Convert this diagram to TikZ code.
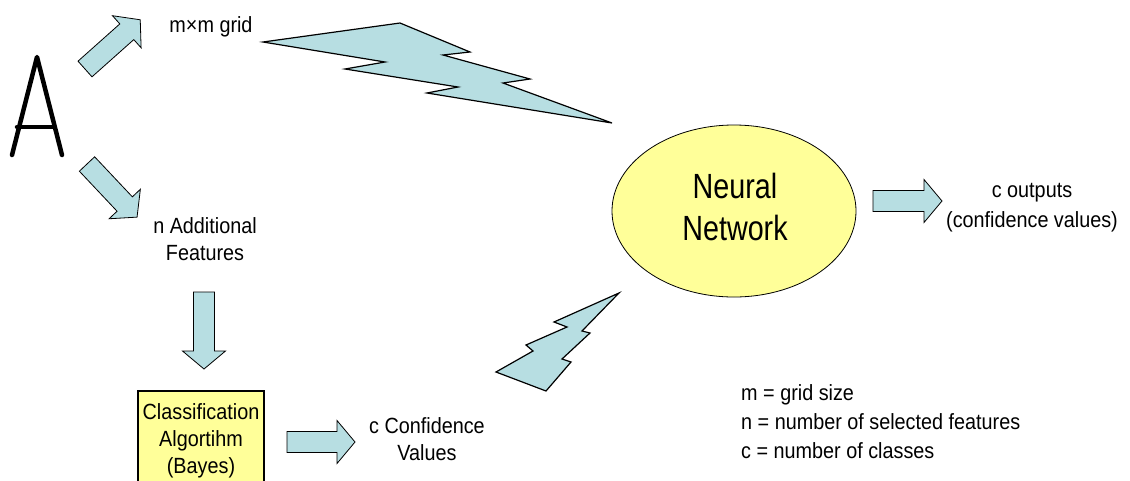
\documentclass[tikz,border=0pt]{standalone}
\usepackage{fontspec}
\setmainfont{Liberation Sans}[FakeStretch=0.9]
\newfontfamily\nnfont{Liberation Sans}[FakeStretch=0.82]
\usetikzlibrary{shapes.geometric}
\definecolor{boltcyan}{RGB}{183,222,226}
\definecolor{paleyellow}{RGB}{255,255,153}
\tikzset{
  lbl/.style={inner sep=0pt, align=center, font=\fontsize{22}{27}\selectfont},
  blockarrow/.pic={
    \draw[draw=black, line width=0.8pt, fill=boltcyan, line join=miter]
      (0,-10.5) -- (#1-18,-10.5) -- (#1-18,-21.5) -- (#1,0) -- (#1-18,21.5)
      -- (#1-18,10.5) -- (0,10.5) -- cycle;
  },
  bolt/.style={draw=black, line width=1.2pt, fill=boltcyan, line join=miter},
  glyph/.style={line width=4.5pt, line cap=round, line join=round},
  yellowbox/.style={draw=black, line width=2pt, fill=paleyellow}
}
\begin{document}
\begin{tikzpicture}[x=1pt,y=-1pt]
\clip (0,0) rectangle (1130,480);
\useasboundingbox (0,0) rectangle (1130,480);
% handwritten letter A
\draw[glyph] (12,155) -- (37,57) -- (62,155);
\draw[glyph] (17,127) -- (53,127);
% block arrows (tail at the given point)
\pic (arr1) [rotate=41.7] at (85,69) {blockarrow=74};
\pic (arr2) [rotate=-46.7] at (87,164) {blockarrow=73};
\pic (arr3) [rotate=-90] at (204,292) {blockarrow=77};
\pic (arr4) at (287,442) {blockarrow=68};
\pic (arr5) at (873,201) {blockarrow=69};
% labels (anchored at the baseline of their last line)
\node[lbl, anchor=base] (grid) at (211,32) {m×m grid};
\node[lbl, anchor=base] (feat) at (205,260) {n Additional\\Features};
\node[lbl, anchor=base] (conf) at (427,460) {c Confidence\\Values};
\node[lbl, anchor=base, font=\fontsize{22}{30}\selectfont] (out) at (1032,227) {c outputs\\(confidence values)};
\node[lbl, anchor=base west, align=left, font=\fontsize{22}{29}\selectfont] (legend) at (741,458)
  {m = grid size\\n = number of selected features\\c = number of classes};
% neural network
\node[ellipse, draw=black, line width=0.8pt, fill=paleyellow, minimum width=244pt,
  minimum height=172pt, inner sep=0pt] (nn) at (734,211) {};
\node[anchor=base, align=center, inner sep=0pt, font=\nnfont\fontsize{35}{42}\selectfont] (nnlabel) at (735,240) {Neural\\Network};
% classification box
\node[yellowbox, anchor=north, minimum width=126pt, minimum height=100pt, text width=124pt,
  inner xsep=1pt, align=center, font=\fontsize{22}{27}\selectfont] (cls) at (201,390)
  {Classification\\Algortihm\\(Bayes)};
% lightning bolts
\draw[bolt] (263,42) -- (400,23) -- (470,52) -- (443,55) -- (530,79) -- (503,83) -- (612,123)
  -- (427,93) -- (458,87) -- (345,69) -- (385,62) -- cycle;
\draw[bolt] (619,293) -- (554,322) -- (567,327) -- (526,345) -- (533,351) -- (496,372)
  -- (546,391) -- (571,362) -- (562,359) -- (590,333) -- (582,331) -- cycle;
\end{tikzpicture}
\end{document}
